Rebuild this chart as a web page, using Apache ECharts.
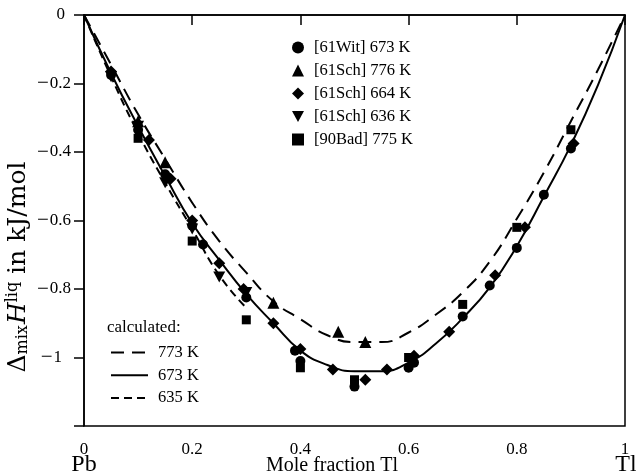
<!DOCTYPE html>
<html>
<head>
<meta charset="utf-8">
<script src="https://cdn.jsdelivr.net/npm/echarts@6/dist/echarts.min.js"></script>
<style>
  html, body { margin: 0; padding: 0; background: #fff; }
  #chart { width: 636px; height: 476px; }
</style>
</head>
<body>
<div id="chart"></div>
<script>
const FONT = '"Liberation Serif", "DejaVu Serif", serif';
const WIDE = '"DejaVu Serif", "Liberation Serif", serif';

// Measured enthalpy of mixing of liquid Pb-Tl: [mole fraction Tl, kJ/mol]
const wit673 = [[0.05,-0.175],[0.10,-0.335],[0.15,-0.465],[0.20,-0.615],[0.22,-0.67],[0.30,-0.825],
  [0.39,-0.98],[0.40,-1.01],[0.50,-1.085],[0.60,-1.03],[0.61,-1.015],[0.70,-0.88],[0.75,-0.79],
  [0.80,-0.68],[0.85,-0.525],[0.90,-0.39]];
const sch776 = [[0.10,-0.31],[0.15,-0.43],[0.35,-0.84],[0.47,-0.925],[0.52,-0.955]];
const sch664 = [[0.05,-0.165],[0.12,-0.365],[0.16,-0.478],[0.20,-0.60],[0.25,-0.725],[0.295,-0.80],
  [0.35,-0.90],[0.40,-0.975],[0.46,-1.035],[0.52,-1.065],[0.56,-1.035],[0.61,-0.995],[0.675,-0.925],
  [0.76,-0.76],[0.815,-0.62],[0.905,-0.375]];
const sch636 = [[0.05,-0.18],[0.10,-0.325],[0.15,-0.49],[0.20,-0.625],[0.25,-0.765],[0.30,-0.81]];
const bad775 = [[0.10,-0.36],[0.20,-0.66],[0.30,-0.89],[0.40,-1.03],[0.50,-1.065],[0.60,-1.0],
  [0.70,-0.845],[0.80,-0.62],[0.90,-0.335]];

// Calculated curves, sampled along the composition axis
const calcX = [0,0.05,0.10,0.15,0.20,0.25,0.30,0.35,0.40,0.45,0.50,0.55,0.60,0.65,0.70,0.75,0.80,0.85,0.90,0.95,1.0];
const calc773 = [0,-0.145,-0.29,-0.42,-0.548,-0.66,-0.752,-0.836,-0.888,-0.935,-0.955,-0.955,-0.927,-0.875,-0.81,-0.72,-0.595,-0.46,-0.31,-0.16,0];
const calc673 = [0,-0.17,-0.325,-0.47,-0.608,-0.715,-0.815,-0.9,-0.98,-1.022,-1.04,-1.04,-1.015,-0.96,-0.885,-0.795,-0.675,-0.53,-0.38,-0.205,0];
const calc635 = [0,-0.18,-0.345,-0.49,-0.625,-0.76,-0.855];

const pairs = (ys) => ys.map((y, i) => [calcX[i], y]);
const invTriangle = 'path://M0,0 L10,0 L5,9 Z';

const chart = echarts.init(document.getElementById('chart'), null, { renderer: 'canvas' });

const black = '#000';
const markerSeries = [
  { name: '[61Wit] 673 K', data: wit673, symbol: 'circle', symbolSize: 10 },
  { name: '[61Sch] 776 K', data: sch776, symbol: 'triangle', symbolSize: 12 },
  { name: '[61Sch] 664 K', data: sch664, symbol: 'diamond', symbolSize: 12 },
  { name: '[61Sch] 636 K', data: sch636, symbol: invTriangle, symbolSize: [12, 11] },
  { name: '[90Bad] 775 K', data: bad775, symbol: 'rect', symbolSize: 9 }
].map(s => Object.assign({
  type: 'scatter', z: 5, itemStyle: { color: black, opacity: 1 }, emphasis: { disabled: true }
}, s));

const curveSeries = [
  { name: '773 K', data: pairs(calc773), dash: [13, 8] },
  { name: '673 K', data: pairs(calc673), dash: 'solid' },
  { name: '635 K', data: pairs(calc635), dash: [8, 5] }
].map(s => ({
  type: 'line', name: s.name, data: s.data, smooth: true, symbol: 'none', showSymbol: false, z: 3,
  lineStyle: { color: black, width: 2, type: s.dash }, itemStyle: { color: black },
  emphasis: { disabled: true }
}));

const fmtX = v => {
  const r = Math.round(v * 10) / 10;
  if (r === 0) return '0';
  if (r === 1) return '1';
  return r.toFixed(1);
};

chart.setOption({
  animation: false,
  backgroundColor: '#fff',
  grid: { left: 84, right: 11, top: 15, bottom: 50, show: true, borderColor: black, borderWidth: 1.5, backgroundColor: 'transparent' },
  xAxis: {
    type: 'value', min: 0, max: 1, interval: 0.2,
    axisLine: { lineStyle: { color: black, width: 1.5 } },
    axisTick: { length: 10, lineStyle: { color: black, width: 1.5 } },
    splitLine: { show: false },
    axisLabel: { margin: 15, color: black, fontFamily: FONT, fontSize: 17, formatter: fmtX }
  },
  yAxis: {
    type: 'value', min: -1.2, max: 0, interval: 0.2,
    axisLine: { lineStyle: { color: black, width: 1.5 } },
    axisTick: { length: 10, lineStyle: { color: black, width: 1.5 } },
    splitLine: { show: false },
    axisLabel: {
      margin: 13, color: black, fontFamily: FONT, fontSize: 17,
      formatter: v => {
        const r = Math.round(v * 10) / 10;
        if (r <= -1.15) return '';
        if (r === 0) return '{z|0}';
        if (r === -1) return '{m|\u2212}{w|1}';
        return '{m|\u2212}{d|' + Math.abs(r).toFixed(1) + '}';
      },
      rich: {
        m: { fontFamily: FONT, fontSize: 21, color: black, padding: [0, 1, 0, 0] },
        d: { fontFamily: FONT, fontSize: 17, color: black },
        z: { fontFamily: FONT, fontSize: 17, color: black, padding: [0, 6, 0, 0] },
        w: { fontFamily: FONT, fontSize: 17, color: black, padding: [0, 9, 0, 0] }
      }
    }
  },
  legend: [
    {
      data: markerSeries.map(s => s.name),
      orient: 'vertical', left: 287, top: 34,
      itemWidth: 12, itemHeight: 12, itemGap: 6.0,
      selectedMode: false,
      textStyle: { color: black, fontFamily: FONT, fontSize: 16.5, lineHeight: 16, padding: [0, 0, 0, 5] }
    },
    {
      data: curveSeries.map(s => s.name),
      orient: 'vertical', left: 105, top: 339,
      itemWidth: 37, itemHeight: 12, itemGap: 5.7,
      selectedMode: false,
      itemStyle: { opacity: 0 },
      textStyle: { color: black, fontFamily: FONT, fontSize: 16.5, lineHeight: 16, padding: [0, 0, 0, 5] }
    }
  ],
  graphic: [
    { type: 'text', left: 107, top: 319, style: { text: 'calculated:', fill: black, font: '17px ' + FONT } },
    { type: 'text', x: 84, y: 465, style: { text: 'Pb', fill: black, font: '24px ' + FONT, align: 'center', verticalAlign: 'middle' } },
    { type: 'text', x: 626, y: 465, style: { text: 'Tl', fill: black, font: '24px ' + FONT, align: 'center', verticalAlign: 'middle' } },
    { type: 'text', x: 332, y: 466, style: { text: 'Mole fraction Tl', fill: black, font: '20px ' + FONT, align: 'center', verticalAlign: 'middle' } },
    {
      type: 'text', x: 18, y: 267, rotation: Math.PI / 2,
      style: {
        text: '{n|\u0394}{s|mix}{i|H}{p|liq}{n| in kJ/mol}',
        align: 'center', verticalAlign: 'middle', fill: black,
        rich: {
          n: { fontFamily: WIDE, fontSize: 25, lineHeight: 32, fill: black },
          i: { fontFamily: WIDE, fontSize: 25, lineHeight: 32, fontStyle: 'italic', fill: black, padding: [0, 0, 0, 1] },
          s: { fontFamily: WIDE, fontSize: 16, fill: black, verticalAlign: 'bottom', padding: [0, 0, 3, 0] },
          p: { fontFamily: WIDE, fontSize: 16, fill: black, verticalAlign: 'top', padding: [3, 0, 0, 0] }
        }
      }
    }
  ],
  series: [...curveSeries, ...markerSeries]
});
</script>
</body>
</html>
